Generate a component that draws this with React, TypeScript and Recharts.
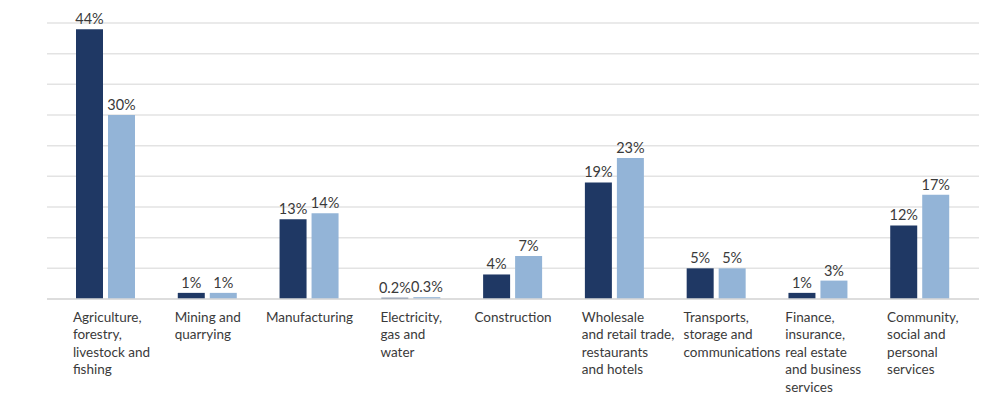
import React from 'react';
import { BarChart, Bar, XAxis, YAxis, CartesianGrid, LabelList } from 'recharts';

// sector labels, "\n" marks a line break
const categories = [
    'Agriculture,\nforestry,\nlivestock and\nfishing',
    'Mining and\nquarrying',
    'Manufacturing',
    'Electricity,\ngas and\nwater',
    'Construction',
    'Wholesale\nand retail trade,\nrestaurants\nand hotels',
    'Transports,\nstorage and\ncommunications',
    'Finance,\ninsurance,\nreal estate\nand business\nservices',
    'Community,\nsocial and\npersonal\nservices',
];
const seriesA = [44, 1, 13, 0.2, 4, 19, 5, 1, 12];
const seriesB = [30, 1, 14, 0.3, 7, 23, 5, 3, 17];
const yTicks = [0, 5, 10, 15, 20, 25, 30, 35, 40, 45];

const data = categories.map((name, i) => ({ name, a: seriesA[i], b: seriesB[i] }));

const FONT = 'Lato, "Open Sans", sans-serif';
const TEXT = '#3a3a3a';

let ctx: CanvasRenderingContext2D | null = null;
const measure = (s: string, size: number) => {
    if (!ctx) ctx = document.createElement('canvas').getContext('2d');
    if (!ctx) return s.length * size * 0.5;
    ctx.font = `${size}px ${FONT}`;
    return ctx.measureText(s).width;
};

const CategoryTick = (props: any) => {
    const { x, y, payload } = props;
    const lines: string[] = String(payload.value).split('\n');
    const size = 13.5;
    const widest = Math.max(...lines.map((l) => measure(l, size)));
    // single lines are centred, wrapped blocks hang left from a capped box
    const left = lines.length === 1 ? x - widest / 2 : x - Math.min(widest / 2, 33);
    return (
        <text x={left} y={y + 15} fill={TEXT} fontSize={size} fontFamily={FONT} textAnchor="start">
            {lines.map((l, i) => (
                <tspan key={i} x={left} dy={i === 0 ? 0 : 17.4}>{l}</tspan>
            ))}
        </text>
    );
};

const fmt = (v: any) => `${v}%`;

const App = () => {
    return (
        <div style={{ position: 'absolute', left: 0, top: 0, background: '#fff' }}>
            <BarChart
                width={993}
                height={395}
                data={data}
                margin={{ top: 23, right: 14, bottom: 6, left: 47 }}
                barCategoryGap={21}
                barGap={5}
            >
                <CartesianGrid vertical={false} stroke="#e3e3e3" strokeWidth={1.5} />
                <XAxis
                    dataKey="name"
                    height={90}
                    interval={0}
                    axisLine={{ stroke: '#d9d9d9', strokeWidth: 1.5 }}
                    tickLine={false}
                    tick={<CategoryTick />}
                    padding={{ left: 8, right: 8 }}
                />
                <YAxis hide width={0} domain={[0, 45]} ticks={yTicks} />
                <Bar dataKey="a" fill="#1f3864" barSize={27} isAnimationActive={false}>
                    <LabelList dataKey="a" position="top" offset={5} formatter={fmt} fill={TEXT} fontSize={14.5} fontFamily={FONT} />
                </Bar>
                <Bar dataKey="b" fill="#93b4d7" barSize={27} isAnimationActive={false}>
                    <LabelList dataKey="b" position="top" offset={5} formatter={fmt} fill={TEXT} fontSize={14.5} fontFamily={FONT} />
                </Bar>
            </BarChart>
        </div>
    );
};

export default App;
